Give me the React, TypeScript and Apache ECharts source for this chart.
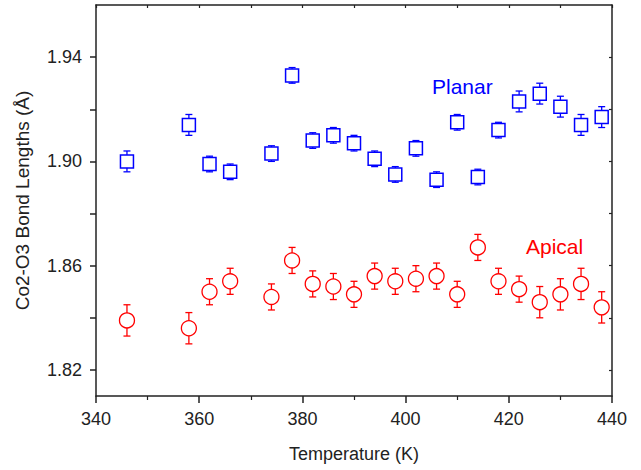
import React, { useEffect, useRef } from "react";
import * as echarts from "echarts";

const temps = [346, 358, 362, 366, 374, 378, 382, 386, 390, 394, 398, 402, 406, 410, 414, 418, 422, 426, 430, 434, 438];
const planar = [1.900, 1.914, 1.899, 1.896, 1.903, 1.933, 1.908, 1.910, 1.907, 1.901, 1.895, 1.905, 1.893, 1.915, 1.894, 1.912, 1.923, 1.926, 1.921, 1.914, 1.917];
const planarErr = [0.004, 0.004, 0.003, 0.003, 0.003, 0.003, 0.003, 0.003, 0.003, 0.003, 0.003, 0.003, 0.003, 0.003, 0.003, 0.003, 0.004, 0.004, 0.004, 0.004, 0.004];
const apical = [1.839, 1.836, 1.850, 1.854, 1.848, 1.862, 1.853, 1.852, 1.849, 1.856, 1.854, 1.855, 1.856, 1.849, 1.867, 1.854, 1.851, 1.846, 1.849, 1.853, 1.844];
const apicalErr = [0.006, 0.006, 0.005, 0.005, 0.005, 0.005, 0.005, 0.005, 0.005, 0.005, 0.005, 0.005, 0.005, 0.005, 0.005, 0.005, 0.005, 0.006, 0.006, 0.006, 0.006];
const yLabelTicks = [1.82, 1.86, 1.90, 1.94];
const yAllTicks = [1.82, 1.84, 1.86, 1.88, 1.90, 1.92, 1.94];

const FONT = "'Liberation Sans', Arial, sans-serif";
const AXIS_COLOR = "#222";
const BLUE = "#0000ff";
const RED = "#ff0000";

function errorSeries(color: string, vals: number[], errs: number[]) {
  return {
    type: "custom",
    silent: true,
    z: 2,
    encode: { x: 0, y: [1, 2] },
    data: temps.map((t, i) => [t, vals[i] - errs[i], vals[i] + errs[i]]),
    renderItem: (params: any, api: any) => {
      const x = api.value(0);
      const lo = api.coord([x, api.value(1)]);
      const hi = api.coord([x, api.value(2)]);
      const cw = 3.5;
      const style = { stroke: color, lineWidth: 1.3 };
      return {
        type: "group",
        children: [
          { type: "line", shape: { x1: hi[0], y1: hi[1], x2: lo[0], y2: lo[1] }, style },
          { type: "line", shape: { x1: hi[0] - cw, y1: hi[1], x2: hi[0] + cw, y2: hi[1] }, style },
          { type: "line", shape: { x1: lo[0] - cw, y1: lo[1], x2: lo[0] + cw, y2: lo[1] }, style },
        ],
      };
    },
  };
}

export default function App() {
  const ref = useRef<HTMLDivElement>(null);
  useEffect(() => {
    if (!ref.current) return;
    const chart = echarts.init(ref.current, null, { renderer: "svg" });
    const axisLine = { show: true, lineStyle: { color: AXIS_COLOR, width: 1.5 } };
    chart.setOption({
      animation: false,
      backgroundColor: "#fff",
      textStyle: { fontFamily: FONT },
      grid: { left: 96, right: 29, top: 5, bottom: 74 },
      xAxis: [
        {
          type: "value",
          position: "bottom",
          min: 340,
          max: 440,
          interval: 20,
          axisLine,
          axisTick: { show: true, length: 7, lineStyle: { color: AXIS_COLOR, width: 1.5 } },
          minorTick: { show: true, splitNumber: 2, length: 4, lineStyle: { color: AXIS_COLOR, width: 1.2 } },
          splitLine: { show: false },
          axisLabel: { color: "#222", fontSize: 18, margin: 14, fontFamily: FONT },
          name: "Temperature (K)",
          nameLocation: "middle",
          nameGap: 49,
          nameTextStyle: { color: "#222", fontSize: 18, fontFamily: FONT },
        },
        {
          type: "value",
          position: "top",
          min: 340,
          max: 440,
          interval: 10,
          axisLine,
          axisTick: { show: true, inside: true, length: 3, lineStyle: { color: AXIS_COLOR, width: 1.2 } },
          axisLabel: { show: false },
          splitLine: { show: false },
        },
      ],
      yAxis: [
        {
          type: "value",
          position: "left",
          min: 1.81,
          max: 1.96,
          axisLine,
          axisTick: { show: true, length: 6, customValues: yAllTicks, lineStyle: { color: AXIS_COLOR, width: 1.5 } },
          axisLabel: {
            color: "#222",
            fontSize: 18,
            margin: 14,
            fontFamily: FONT,
            customValues: yLabelTicks,
            formatter: (v: number) => v.toFixed(2),
          },
          splitLine: { show: false },
          name: "Co2-O3 Bond Lengths (Å)",
          nameLocation: "middle",
          nameGap: 64,
          nameTextStyle: { color: "#222", fontSize: 19, fontFamily: FONT },
        },
        {
          type: "value",
          position: "right",
          min: 1.81,
          max: 1.96,
          axisLine,
          axisTick: { show: true, inside: true, length: 3, customValues: yAllTicks, lineStyle: { color: AXIS_COLOR, width: 1.2 } },
          axisLabel: { show: false },
          splitLine: { show: false },
        },
      ],
      graphic: [
        {
          type: "text",
          x: 432,
          y: 86,
          style: { text: "Planar", fill: BLUE, font: `21px ${FONT}`, verticalAlign: "middle" },
        },
        {
          type: "text",
          x: 526,
          y: 246,
          style: { text: "Apical", fill: RED, font: `21px ${FONT}`, verticalAlign: "middle" },
        },
      ],
      series: [
        errorSeries(BLUE, planar, planarErr),
        errorSeries(RED, apical, apicalErr),
        {
          type: "scatter",
          silent: true,
          z: 3,
          symbol: "rect",
          symbolSize: 13,
          itemStyle: { color: "#fff", borderColor: BLUE, borderWidth: 1.5, opacity: 1 },
          data: temps.map((t, i) => [t, planar[i]]),
        },
        {
          type: "scatter",
          silent: true,
          z: 3,
          symbol: "circle",
          symbolSize: 15,
          itemStyle: { color: "#fff", borderColor: RED, borderWidth: 1.3, opacity: 1 },
          data: temps.map((t, i) => [t, apical[i]]),
        },
      ],
    });
    return () => chart.dispose();
  }, []);
  return <div ref={ref} style={{ width: 641, height: 470, position: "fixed", left: 0, top: 0 }} />;
}
